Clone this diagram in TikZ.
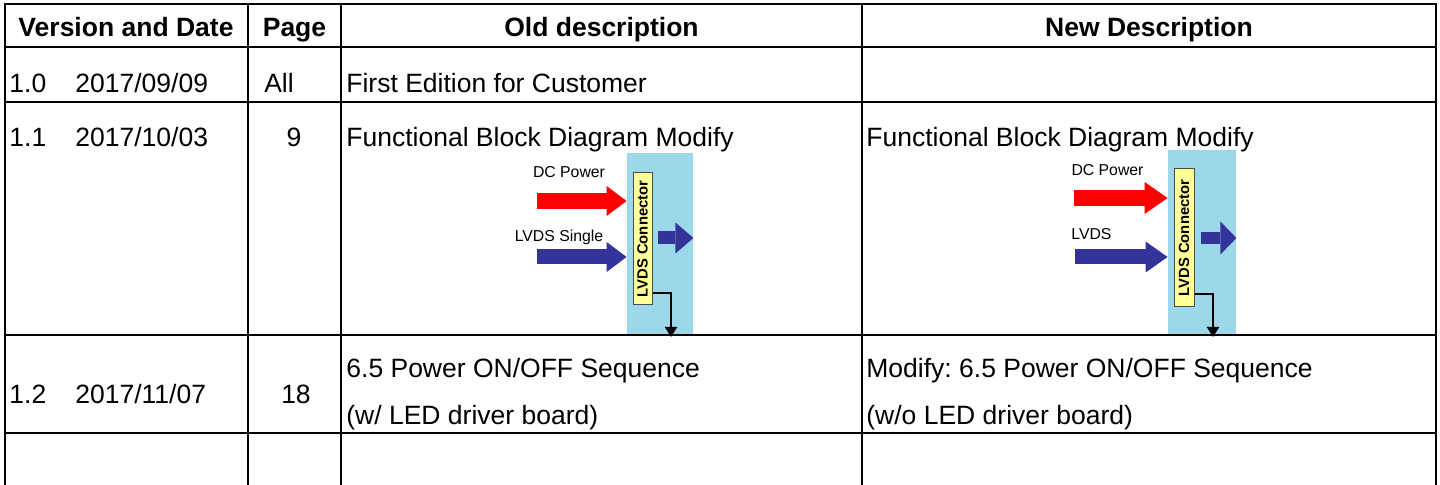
\documentclass[tikz,border=0pt]{standalone}
\usepackage{fontspec}
\setmainfont{Liberation Sans}
\usepackage{graphicx}
\usetikzlibrary{arrows.meta}
\frenchspacing
\definecolor{panelblue}{RGB}{155,216,234}
\definecolor{connyellow}{RGB}{255,255,153}
\definecolor{lvdsblue}{RGB}{51,51,153}
\definecolor{powerred}{RGB}{255,0,0}
\tikzset{
    tableline/.style={line width=1.3pt, line cap=rect},
    cell/.style={inner sep=0pt, anchor=base west, font=\fontsize{13.25}{16}\selectfont},
    hdr/.style={inner sep=0pt, anchor=base, font=\fontsize{13.25}{16}\selectfont\bfseries},
    tag/.style={inner sep=0pt, anchor=base, font=\fontsize{7.9}{9}\selectfont},
    panel/.style={fill=panelblue, inner sep=0pt},
    conn/.style={draw=black!70, fill=connyellow, line width=0.5pt, inner sep=0pt,
        minimum width=9.5pt, font=\fontsize{7.4}{9}\selectfont\bfseries},
    feed/.style n args={3}{line width=#1, -{Triangle[width=#2, length=#3, line width=0pt]}},
    tap/.style={line width=1pt, -{Triangle[length=5pt, width=6pt]}},
}

\begin{document}
\begin{tikzpicture}[x=0.5pt, y=-0.5pt]
    \useasboundingbox (0,0) rectangle (1440,485);

    % old block diagram
    \node[panel, minimum width=33pt, minimum height=91pt] (oldpanel) at (660,244) {};
    \node[conn, minimum height=66pt] (oldconn) at (642.5,239) {\rotatebox{90}{LVDS Connector}};
    \coordinate (olddc) at (537,201);
    \coordinate (oldlvds) at (537,257);
    \coordinate (oldout) at (658,238);
    \coordinate (oldsink) at (671,337);
    \draw[feed={8pt}{15pt}{10pt}, powerred] (olddc) -- (olddc -| oldpanel.west);
    \draw[feed={7.5pt}{15pt}{10pt}, lvdsblue] (oldlvds) -- (oldlvds -| oldpanel.west);
    \draw[feed={6.5pt}{15.5pt}{9pt}, lvdsblue] (oldout) -- (oldout -| oldpanel.east);
    \draw[tap] (oldconn.east |- 0,293) -| (oldsink);
    \node[tag] (olddctag) at (569,178) {DC Power};
    \node[tag] (oldlvdstag) at (559,242) {LVDS Single};

    % new block diagram
    \node[panel, minimum width=34pt, minimum height=92.5pt] (newpanel) at (1202,242.5) {};
    \node[conn, minimum width=10pt, minimum height=69pt] (newconn) at (1184,238) {\rotatebox{90}{LVDS Connector}};
    \coordinate (newdc) at (1074,198);
    \coordinate (newlvds) at (1075,257);
    \coordinate (newout) at (1201,238);
    \coordinate (newsink) at (1213,337);
    \draw[feed={8pt}{16pt}{11.5pt}, powerred] (newdc) -- (newdc -| newpanel.west);
    \draw[feed={7.5pt}{15.5pt}{11pt}, lvdsblue] (newlvds) -- (newlvds -| newpanel.west);
    \draw[feed={6pt}{16.5pt}{8pt}, lvdsblue] (newout) -- (newout -| newpanel.east);
    \draw[tap] (newconn.east |- 0,294) -| (newsink);
    \node[tag] (newdctag) at (1107.5,176) {DC Power};
    \node[tag, anchor=base west] (newlvdstag) at (1071,240) {LVDS};

    % header
    \node[hdr] (hver) at (126,37) {Version and Date};
    \node[hdr] (hpage) at (294.5,37) {Page};
    \node[hdr] (hold) at (601.5,37) {Old description};
    \node[hdr] (hnew) at (1149,37) {New Description};

    % rows
    \node[cell] (v10) at (9,93) {1.0};
    \node[cell] (d10) at (75,93) {2017/09/09};
    \node[cell, anchor=base] (p10) at (279,93) {All};
    \node[cell] (o10) at (346,93) {First Edition for Customer};

    \node[cell] (v11) at (9,147) {1.1};
    \node[cell] (d11) at (75,147) {2017/10/03};
    \node[cell, anchor=base] (p11) at (294,147) {9};
    \node[cell] (o11) at (346,147) {Functional Block Diagram Modify};
    \node[cell] (n11) at (866,147) {Functional Block Diagram Modify};

    \node[cell] (v12) at (9,404) {1.2};
    \node[cell] (d12) at (75,404) {2017/11/07};
    \node[cell, anchor=base] (p12) at (296,404) {18};
    \node[cell] (o12a) at (346,378) {6.5 Power ON/OFF Sequence};
    \node[cell] (o12b) at (346,425) {(w/ LED driver board)};
    \node[cell] (n12a) at (866,378) {Modify: 6.5 Power ON/OFF Sequence};
    \node[cell] (n12b) at (866,425) {(w/o LED driver board)};

    % grid
    \draw[tableline] (5,4) -- (1436,4);
    \draw[tableline] (5,47) -- (1436,47);
    \draw[tableline] (5,102) -- (1436,102);
    \draw[tableline] (5,335) -- (1436,335);
    \draw[tableline] (5,433) -- (1436,433);
    \draw[tableline] (5,4) -- (5,485);
    \draw[tableline] (248,4) -- (248,485);
    \draw[tableline] (341,4) -- (341,485);
    \draw[tableline] (862,4) -- (862,485);
    \draw[tableline] (1436,4) -- (1436,485);
\end{tikzpicture}
\end{document}
